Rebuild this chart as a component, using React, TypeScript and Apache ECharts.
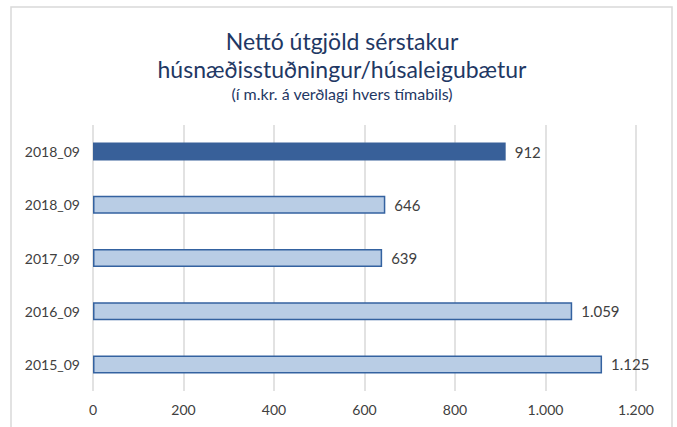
import React, { useEffect, useRef } from "react";
import * as echarts from "echarts";

const categories = ["2018_09", "2018_09", "2017_09", "2016_09", "2015_09"];
const values = [912, 646, 639, 1059, 1125];
const highlighted = [true, false, false, false, false];
const titleLines = ["Nettó útgjöld sérstakur", "húsnæðisstuðningur/húsaleigubætur"];
const subtitle = "(í m.kr. á verðlagi hvers tímabils)";

const FONT = "Lato, 'Open Sans', sans-serif";

function fmt(v: number): string {
  return String(Math.round(v)).replace(/\B(?=(\d{3})+(?!\d))/g, ".");
}

export default function App() {
  const ref = useRef<HTMLDivElement>(null);
  useEffect(() => {
    document.body.style.margin = "0";
    const chart = echarts.init(ref.current!, null, { renderer: "svg" });
    chart.setOption({
      animation: false,
      backgroundColor: "#ffffff",
      graphic: [
        {
          type: "rect",
          shape: { x: 11, y: 7, width: 661, height: 440 },
          style: { fill: "none", stroke: "#d9d9d9", lineWidth: 1.5 },
          silent: true,
        },
        {
          type: "text",
          x: 342,
          y: 41,
          style: {
            text: titleLines[0],
            fill: "#1f3864",
            font: `23px ${FONT}`,
            align: "center",
            verticalAlign: "middle",
          },
        },
        {
          type: "text",
          x: 342,
          y: 69,
          style: {
            text: titleLines[1],
            fill: "#1f3864",
            font: `23px ${FONT}`,
            align: "center",
            verticalAlign: "middle",
          },
        },
        {
          type: "text",
          x: 342,
          y: 93,
          style: {
            text: subtitle,
            fill: "#1f3864",
            font: `16px ${FONT}`,
            align: "center",
            verticalAlign: "middle",
          },
        },
      ],
      grid: { left: 93, right: 41, top: 125, bottom: 36, containLabel: false },
      xAxis: {
        type: "value",
        min: 0,
        max: 1200,
        interval: 200,
        axisLine: { show: false },
        axisTick: { show: false },
        splitLine: { show: true, lineStyle: { color: "#d9d9d9", width: 1.5 } },
        axisLabel: {
          formatter: (v: number) => fmt(v),
          color: "#404040",
          fontFamily: FONT,
          fontSize: 14,
          margin: 11,
        },
      },
      yAxis: {
        type: "category",
        data: categories,
        inverse: true,
        axisLine: { show: false },
        axisTick: { show: false },
        splitLine: { show: false },
        axisLabel: {
          color: "#404040",
          fontFamily: FONT,
          fontSize: 14,
          margin: 13,
        },
      },
      series: [
        {
          type: "bar",
          barWidth: 18,
          data: values.map((v, i) => ({
            value: v,
            itemStyle: highlighted[i]
              ? { color: "#386099", borderColor: "#386099", borderWidth: 0 }
              : { color: "#b9cde5", borderColor: "#3462a0", borderWidth: 1.5 },
          })),
          label: {
            show: true,
            position: "right",
            distance: 9,
            formatter: (p: any) => fmt(p.value),
            color: "#404040",
            fontFamily: FONT,
            fontSize: 15,
          },
        },
      ],
    });
    return () => chart.dispose();
  }, []);
  return <div ref={ref} style={{ width: 677, height: 427 }} />;
}
